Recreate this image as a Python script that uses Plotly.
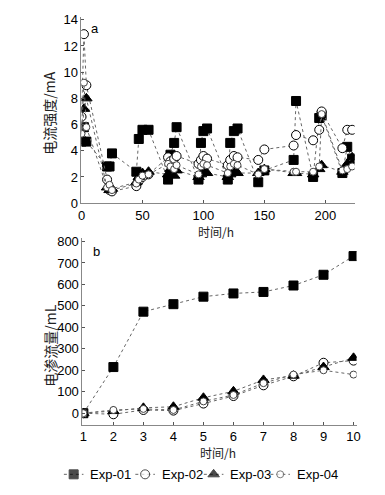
import plotly.graph_objects as go

# ---- Panel a: current intensity vs time ----
t_a = [0, 2, 4, 21, 23, 25, 45, 47, 50, 55, 71, 73, 76, 78, 96, 98, 100, 103,
       120, 122, 125, 128, 145, 150, 174, 176, 190, 195, 197, 214, 218, 222]
a_exp01 = [4.7, 5.8, 4.7, 2.8, 2.8, 3.8, 2.4, 4.9, 5.6, 5.6, 1.8, 3.7, 4.6, 5.8,
           1.8, 4.6, 5.5, 5.7, 1.8, 4.6, 5.5, 5.7, 1.6, 2.5, 3.3, 7.8, 2.0, 6.5,
           6.7, 2.3, 4.3, 3.4]
a_exp02 = [6.6, 12.9, 9.0, 1.8, 1.0, 0.9, 1.3, 1.7, 2.0, 2.2, 3.5, 3.2, 3.4, 3.6,
           3.0, 3.3, 3.6, 3.4, 2.9, 3.3, 3.6, 3.5, 3.3, 4.1, 4.4, 5.2, 4.8, 5.6,
           7.0, 4.2, 5.6, 5.6]
a_exp03 = [4.7, 7.2, 8.0, 1.2, 1.0, 1.1, 1.6, 2.0, 2.3, 2.4, 2.2, 2.6, 2.1, 2.5,
           2.0, 2.2, 2.4, 2.3, 2.0, 2.2, 2.4, 2.3, 2.3, 2.6, 2.3, 2.3, 2.2, 2.6,
           2.9, 2.4, 3.0, 3.5]
a_exp04 = [5.3, 9.2, 5.8, 1.2, 1.4, 1.0, 1.5, 1.8, 2.1, 2.2, 3.0, 2.8, 2.6, 2.9,
           2.2, 2.8, 3.0, 2.9, 2.3, 2.8, 3.0, 2.9, 2.2, 2.6, 2.4, 2.4, 2.4, 2.8,
           6.8, 2.5, 2.6, 2.8]

# ---- Panel b: electroosmotic flow vs time ----
t_b = [1, 2, 3, 4, 5, 6, 7, 8, 9, 10]
b_exp01 = [0, 215, 473, 508, 543, 558, 565, 595, 645, 732]
b_exp02 = [0, -5, 15, 12, 45, 80, 130, 172, 235, 245]
b_exp03 = [0, 10, 25, 30, 72, 102, 155, 175, 215, 258]
b_exp04 = [0, 15, 20, 15, 55, 85, 140, 180, 200, 180]

names = ["Exp-01", "Exp-02", "Exp-03", "Exp-04"]
styles = [
    dict(symbol="square", size=9, color="black", line=dict(color="black", width=1)),
    dict(symbol="circle", size=9, color="white", line=dict(color="black", width=1)),
    dict(symbol="triangle-up", size=10, color="black", line=dict(color="black", width=1)),
    dict(symbol="circle", size=7, color="white", line=dict(color="#444", width=1)),
]
line_style = dict(color="#666", width=1, dash="dot")

# page body has an 8px margin: size the figure to the visible area and
# express layout positions in window pixels
OFF = 8
W, H = 385 - OFF, 495 - OFF
def px(v):
    return (v - OFF) / W
def py(v):
    return 1 - (v - OFF) / H

fig = go.Figure()
for i, ys in enumerate([a_exp01, a_exp02, a_exp03, a_exp04]):
    fig.add_trace(go.Scatter(x=t_a, y=ys, mode="lines+markers", name=names[i],
                             marker=styles[i], line=line_style, showlegend=False,
                             xaxis="x", yaxis="y"))
for i, ys in enumerate([b_exp01, b_exp02, b_exp03, b_exp04]):
    fig.add_trace(go.Scatter(x=t_b, y=ys, mode="lines+markers", name=names[i],
                             marker=styles[i], line=line_style, showlegend=False,
                             xaxis="x2", yaxis="y2"))

# ---- custom legend row (own pixel-scaled axis) ----
leg_centers = [71, 144, 214, 282]   # symbol centres, window px
for i, c in enumerate(leg_centers):
    st = dict(styles[i])
    st["size"] = [0, st["size"], 0]
    fig.add_trace(go.Scatter(x=[c - 10, c, c + 10], y=[0.5, 0.5, 0.5], mode="lines+markers",
                             marker=st, line=dict(color="#666", width=1, dash="dot"),
                             showlegend=False, hoverinfo="skip", xaxis="x3", yaxis="y3"))
    fig.add_annotation(xref="x3", yref="y3", x=c + 15, y=0.5, text=names[i], showarrow=False,
                       xanchor="left", yanchor="middle",
                       font=dict(family="Liberation Sans, Arial, sans-serif", size=13, color="black"))

tickfont = dict(family="Liberation Sans, Arial, sans-serif", size=13, color="black")
axcommon = dict(showgrid=False, zeroline=False, showline=True, linecolor="#888",
                linewidth=1, ticks="inside", ticklen=3, tickcolor="#555",
                tickfont=tickfont, mirror=False)

fig.update_layout(
    width=W, height=H, margin=dict(l=0, r=0, t=0, b=0),
    paper_bgcolor="white", plot_bgcolor="white", showlegend=False,
    xaxis=dict(domain=[px(79), px(358)], range=[0, 224], tickvals=[0, 50, 100, 150, 200],
               anchor="y", **axcommon),
    yaxis=dict(domain=[py(204), py(13)], range=[0, 14.22], tickvals=list(range(0, 15, 2)),
               anchor="x", **axcommon),
    xaxis2=dict(domain=[px(80), px(360)], range=[0.97, 10.1], tickvals=t_b,
                anchor="y2", **axcommon),
    yaxis2=dict(domain=[py(431), py(240)], range=[-53, 815],
                tickvals=[0, 100, 200, 300, 400, 500, 600, 700, 800], anchor="x2", **axcommon),
    xaxis3=dict(domain=[0, 1], range=[OFF, 385], visible=False, fixedrange=True, anchor="y3"),
    yaxis3=dict(domain=[py(492), py(472)], range=[0, 1], visible=False, fixedrange=True, anchor="x3"),
)

cjk = "Noto Sans CJK SC"
ann = [
    dict(text="电流强度/mA", x=px(46), y=py(112), textangle=-90, size=14),
    dict(text="时间/h", x=px(216), y=py(233), size=12),
    dict(text="电渗流量/mL", x=px(46), y=py(350), textangle=-90, size=14),
    dict(text="时间/h", x=px(218), y=py(460), size=12),
]
for a in ann:
    s = a.pop("size")
    fig.add_annotation(xref="paper", yref="paper", showarrow=False,
                       font=dict(family=cjk, size=s, color="#222"),
                       xanchor="center", yanchor="middle", **a)
fig.add_annotation(xref="paper", yref="paper", x=px(93), y=py(25), text="a", showarrow=False,
                   font=dict(family="Liberation Sans, Arial", size=13, color="black"),
                   xanchor="center", yanchor="middle")
fig.add_annotation(xref="paper", yref="paper", x=px(94), y=py(254), text="b", showarrow=False,
                   font=dict(family="Liberation Sans, Arial", size=13, color="black"),
                   xanchor="center", yanchor="middle")

fig.write_html("out.html")
